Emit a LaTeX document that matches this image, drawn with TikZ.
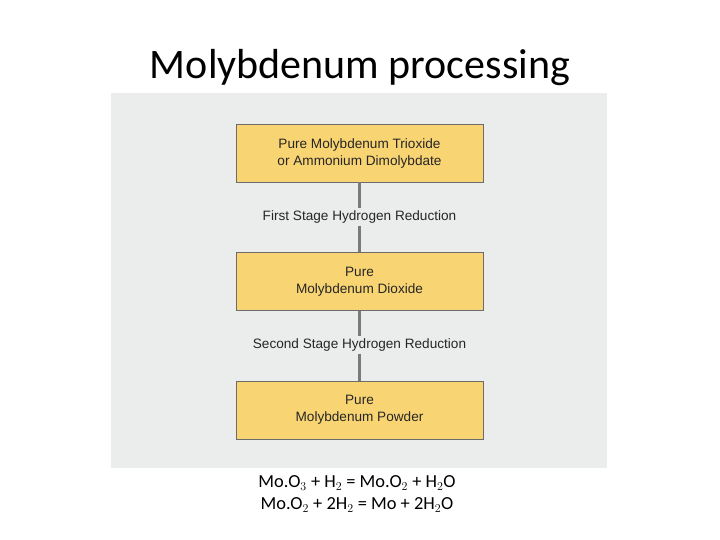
\documentclass[tikz,border=0pt]{standalone}
\usepackage{fontspec}
\setmainfont{Carlito}
\newfontfamily\arialfont{Liberation Sans}
\usetikzlibrary{positioning}
\definecolor{panelgray}{HTML}{EBECEC}
\definecolor{boxyellow}{HTML}{F9D473}
\definecolor{edgegray}{HTML}{6B6B6B}
\begin{document}
\begin{tikzpicture}[x=1pt, y=1pt,
 stepnode/.style={rectangle, draw=edgegray, fill=boxyellow, thick, minimum width=247pt, minimum height=58pt, align=center, font=\arialfont\fontsize{13.6}{17}\selectfont, text=black!85},
 labelnode/.style={fill=panelgray, inner sep=2pt, font=\arialfont\fontsize{13.6}{17}\selectfont, text=black!85},
 link/.style={draw=edgegray!90, line width=2.5pt}
 ]
 \useasboundingbox (0,0) rectangle (720,540);
 \fill[panelgray] (111,72) rectangle (607,447);

 %Nodes
 \node (title_node) at (360,472) {\fontsize{42}{48}\selectfont Molybdenum processing};
 \node[stepnode] (trioxide_node) at (359.5,387) {Pure Molybdenum Trioxide\\or Ammonium Dimolybdate};
 \node[stepnode] (dioxide_node) at (359.5,258.5) {Pure\\Molybdenum Dioxide};
 \node[stepnode] (powder_node) at (359.5,130) {Pure\\Molybdenum Powder};
 \node[labelnode] (first_node) at (359.5,323) {First Stage Hydrogen Reduction};
 \node[labelnode] (second_node) at (359.5,195) {Second Stage Hydrogen Reduction};
 \node[align=center, font=\fontsize{18.4}{22}\selectfont] (formula_node) at (357,46)
   {Mo.O$_3$ + H$_2$ = Mo.O$_2$ + H$_2$O\\Mo.O$_2$ + 2H$_2$ = Mo + 2H$_2$O};

 %Lines
 \draw[link] (trioxide_node.south) -- (first_node.north);
 \draw[link] (first_node.south) -- (dioxide_node.north);
 \draw[link] (dioxide_node.south) -- (second_node.north);
 \draw[link] (second_node.south) -- (powder_node.north);
\end{tikzpicture}
\end{document}
